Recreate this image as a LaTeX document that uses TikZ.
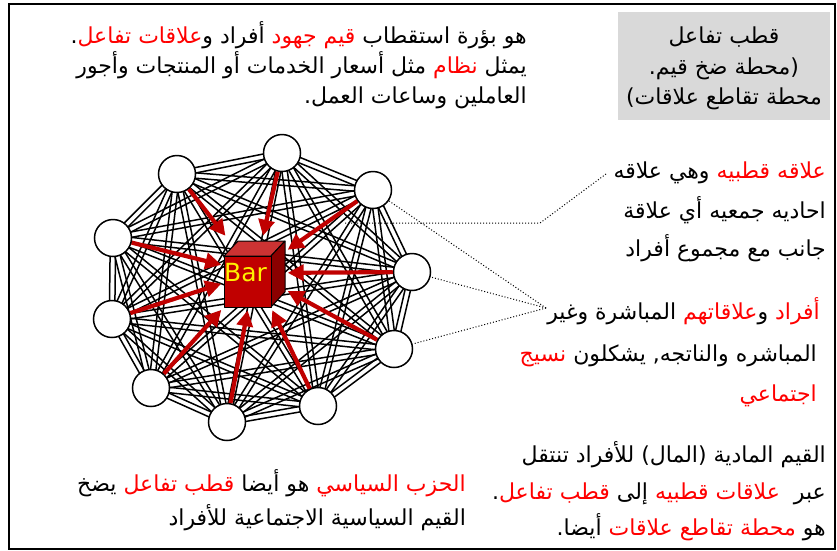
\documentclass[tikz,border=0pt]{standalone}
\usepackage{fontspec}
\newfontfamily\arabicfont[Script=Arabic]{DejaVu Sans}
\newfontfamily\latinsans{DejaVu Sans}
\TeXXeTstate=1
\usetikzlibrary{arrows.meta,calc,backgrounds}

\definecolor{barred}{HTML}{C00000}
\definecolor{bartop}{HTML}{CC3333}
\definecolor{barside}{HTML}{8B0000}
\definecolor{boxgray}{HTML}{D9D9D9}
\definecolor{keyred}{HTML}{FF0000}

% right-to-left pieces of a line, given in visual order (left piece first);
% colour changes stay outside the reversed runs
\newcommand{\rseg}[1]{\beginR #1\endR}
\newcommand{\kseg}[1]{\textcolor{keyred}{\beginR #1\endR}}

\begin{document}
\begin{tikzpicture}[x=1pt,y=-1pt,
  member/.style={circle, draw, line width=1.5pt, fill=white, minimum size=37pt, inner sep=0pt},
  tie/.style={line width=1.5pt, black},
  pull/.style={line width=4.2pt, draw=barred, -{Triangle[length=16pt,width=16pt]}},
  callout/.style={dotted, line width=1pt},
  arabicline/.style={font=\arabicfont\fontsize{22}{26}\selectfont, inner sep=0pt,
                     text height=17pt, text depth=5pt},
  face/.style={draw=black, line width=1pt, line join=round}
]
\useasboundingbox (0,0) rectangle (837,550);

% outer frame
\draw[line width=2pt] (9,4) rectangle (835,549);

% title box
\node[fill=boxgray, minimum width=212pt, minimum height=108pt, inner sep=0pt] (pole) at (724,66) {};
\node[arabicline] (pole1) at (724,37) {\rseg{قطب تفاعل}};
\node[arabicline] (pole2) at (724,68) {\rseg{(محطة ضخ قيم.}};
\node[arabicline] (pole3) at (724,98) {\rseg{محطة تقاطع علاقات)}};

% explanatory texts
\node[arabicline, anchor=east] (intro1) at (527,37)
  {\rseg{.}\kseg{علاقات تفاعل}\rseg{أفراد و}\ \kseg{قيم جهود}\ \rseg{هو بؤرة استقطاب}};
\node[arabicline, anchor=east] (intro2) at (527,67)
  {\rseg{مثل أسعار الخدمات أو المنتجات وأجور}\ \kseg{نظام}\ \rseg{يمثل}};
\node[arabicline, anchor=east] (intro3) at (527,97)
  {\rseg{العاملين وساعات العمل.}};

\node[arabicline, anchor=east] (polar1) at (826,172)
  {\rseg{وهي علاقه}\ \kseg{علاقه قطبيه}};
\node[arabicline, anchor=east] (polar2) at (826,212)
  {\rseg{احاديه جمعيه أي علاقة}};
\node[arabicline, anchor=east] (polar3) at (826,250)
  {\rseg{جانب مع مجموع أفراد}};

\node[arabicline, anchor=east] (fabric1) at (820,313)
  {\rseg{المباشرة وغير}\ \kseg{علاقاتهم}\rseg{و}\ \kseg{أفراد}};
\node[arabicline, anchor=east] (fabric2) at (817,355)
  {\kseg{نسيج}\ \rseg{المباشره والناتجه, يشكلون}};
\node[arabicline, anchor=east] (fabric3) at (817,395)
  {\kseg{اجتماعي}};

\node[arabicline, anchor=east] (money1) at (826,456)
  {\rseg{القيم المادية (المال) للأفراد تنتقل}};
\node[arabicline, anchor=east] (money2) at (826,493)
  {\rseg{.}\kseg{قطب تفاعل}\ \rseg{إلى}\ \kseg{علاقات قطبيه}\ \ \rseg{عبر}};
\node[arabicline, anchor=east] (money3) at (826,529)
  {\rseg{أيضا.}\ \kseg{محطة تقاطع علاقات}\ \rseg{هو}};

\node[arabicline, anchor=east] (party1) at (466,485)
  {\rseg{يضخ}\ \kseg{قطب تفاعل}\ \rseg{هو أيضا}\ \kseg{الحزب السياسي}};
\node[arabicline, anchor=east] (party2) at (466,519)
  {\rseg{القيم السياسية الاجتماعية للأفراد}};

% members of the network
\node[member] (n1) at (282,153) {};
\node[member] (n2) at (177,174) {};
\node[member] (n3) at (373,190) {};
\node[member] (n4) at (113,238) {};
\node[member] (n5) at (412,272) {};
\node[member] (n6) at (112,319) {};
\node[member] (n7) at (394,349) {};
\node[member] (n8) at (151,388) {};
\node[member] (n9) at (318,406) {};
\node[member] (n10) at (227,422) {};

% every pair of members is tied by a double line
\begin{pgfonlayer}{background}
\foreach \i in {1,...,9}{
  \pgfmathtruncatemacro{\nxt}{\i+1}
  \foreach \j in {\nxt,...,10}{
    \draw[tie] ($(n\i.center)!2.7pt!90:(n\j.center)$) -- ($(n\j.center)!2.7pt!-90:(n\i.center)$);
    \draw[tie] ($(n\i.center)!2.7pt!-90:(n\j.center)$) -- ($(n\j.center)!2.7pt!90:(n\i.center)$);
  }
}
\end{pgfonlayer}

% the pole: a small cube
\node[minimum width=66pt, minimum height=74pt, inner sep=0pt] (cube) at (254.5,273) {};
\filldraw[face, fill=bartop] (224,256) -- (238,241) -- (285,241) -- (271,256) -- cycle;
\filldraw[face, fill=barside] (271,256) -- (285,241) -- (285,292) -- (271,307) -- cycle;
\node[face, fill=barred, minimum width=47pt, minimum height=51pt, inner sep=0pt] (bar) at (247.5,281.5) {};
\node[font=\latinsans\fontsize{25}{25}\selectfont, text=yellow, inner sep=0pt] (bartext) at (245.5,273) {Bar};

% polar relations pulling towards the pole
\foreach \k in {1,...,10}{
  \draw[pull] (n\k) -- (cube);
}

% callout lines
\coordinate (k1) at (606,174);
\coordinate (k1b) at (540,223);
\coordinate (k1e) at (345,223);
\draw[callout] (k1) -- (k1b) -- (k1e);
\coordinate (k2) at (546,308);
\draw[callout] (k2) -- (n3);
\draw[callout] (k2) -- (n5);
\draw[callout] (k2) -- (n7);
\end{tikzpicture}
\end{document}
